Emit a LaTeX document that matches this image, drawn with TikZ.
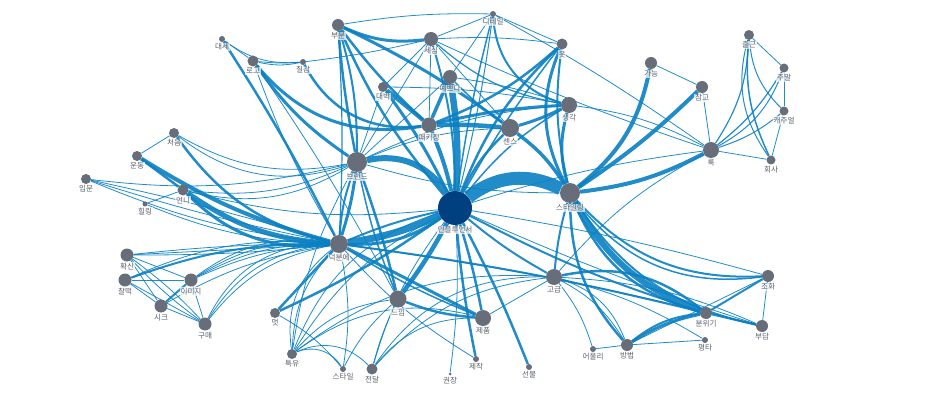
\documentclass[tikz,border=0pt]{standalone}
\usepackage{fontspec}
\setmainfont{Noto Sans CJK KR}
\pgfdeclarelayer{background}
\pgfsetlayers{background,main}
\definecolor{eblue}{HTML}{0A80C2}
\definecolor{ngray}{HTML}{676D79}
\definecolor{cdark}{HTML}{003F80}
\definecolor{lgray}{HTML}{5A606B}
\tikzset{
  v/.style={circle, fill=ngray, inner sep=0pt, minimum size=#1pt},
  lab/.style={font=\fontsize{7.6}{8.5}\selectfont, text=lgray, fill=white, fill opacity=0.7, text opacity=1, inner sep=0.7pt},
  every label/.style={lab},
  label distance=0.5pt,
  edge/.style={draw=eblue, draw opacity=0.9}
}
\newcommand\ed[4]{\draw[edge,line width=#3pt] (#1) to[#4] (#2);}
\begin{document}
\begin{tikzpicture}[x=1pt,y=-1pt]
\useasboundingbox (0,0) rectangle (950,414);
% nodes
\node[v=34, fill=cdark, label=below:인플루언서] (inf) at (455,208) {};
\node[v=20, label=below:스타일링] (sty) at (570,193) {};
\node[v=20, label=below:브랜드] (brand) at (357,162) {};
\node[v=18, label=below:덕분에] (deok) at (339,244) {};
\node[v=18, label=below:센스] (sense) at (510,128) {};
\node[v=16, label=below:생각] (think) at (569,105) {};
\node[v=15, label=below:패키징] (pack) at (429,125) {};
\node[v=14, label=below:예쁘다] (pretty) at (450,77) {};
\node[v=10, label=below:대박] (daebak) at (383,87) {};
\node[v=14, label=below:세심] (sesim) at (431,39) {};
\node[v=12, label=below:부분] (bubun) at (338,25) {};
\node[v=6, label=below:디테일] (detail) at (493,14) {};
\node[v=11, label=below:옷] (ot) at (562,44) {};
\node[v=11, label=below:로고] (logo) at (253,61) {};
\node[v=6, label=below:질감] (jilgam) at (303,62) {};
\node[v=6, label=below:대세] (daese) at (222,39) {};
\node[v=12, label=below:가능] (gan) at (651,63) {};
\node[v=12, label=below:참고] (cham) at (702,87) {};
\node[v=16, label=below:룩] (look) at (711,150) {};
\node[v=10, label=below:출근] (chul) at (749,35) {};
\node[v=9, label=below:주말] (jumal) at (784,68) {};
\node[v=9, label=below:캐주얼] (casual) at (784,111) {};
\node[v=9, label=below:회사] (hoesa) at (771,160) {};
\node[v=10, label=below:처음] (cheo) at (174,133) {};
\node[v=10, label=below:운동] (undong) at (137,156) {};
\node[v=10, label=below:입문] (ipmun) at (86,179) {};
\node[v=11, label=below:언니] (unni) at (183,190) {};
\node[v=5, label=below:힐링] (heal) at (145,204) {};
\node[v=13, label=below:확신] (hwak) at (127,255) {};
\node[v=13, label=below:찰떡] (chal) at (125,280) {};
\node[v=13, label=below:이미지] (image) at (191,280) {};
\node[v=13, label=below:시크] (chic) at (161,306) {};
\node[v=13, label=below:구매] (gumae) at (205,324) {};
\node[v=10, label=below:멋] (meot) at (275,313) {};
\node[v=10, label=below:특유] (teuk) at (292,354) {};
\node[v=6, label=below:스타일] (style) at (343,369) {};
\node[v=11, label=below:전달] (jeon) at (372,369) {};
\node[v=17, label=below:느낌] (neuk) at (398,299) {};
\node[v=16, label=below:제품] (jepum) at (483,318) {};
\node[v=3, label=below:권장] (gwon) at (450,374) {};
\node[v=6, label=below:제작] (jejak) at (476,359) {};
\node[v=6, label=below:선물] (seon) at (529,367) {};
\node[v=16, label=below:고급] (gogeup) at (554,277) {};
\node[v=6, label=below:어울리] (eoul) at (593,349) {};
\node[v=12, label=below:방법] (bang) at (627,345) {};
\node[v=6, label=below:평타] (pyeong) at (705,340) {};
\node[v=12, label=below:분위기] (bun) at (706,313) {};
\node[v=12, label=below:조화] (johwa) at (768,276) {};
\node[v=12, label=below:부담] (budam) at (762,326) {};
\begin{pgfonlayer}{background}
% center
\ed{inf}{sty}{13}{bend left=32}
\ed{brand}{inf}{6}{bend left=35}
\ed{deok}{inf}{7}{bend right=8}
\ed{deok}{inf}{3}{bend right=18}
\ed{deok}{inf}{2}{bend left=5}
\ed{pretty}{inf}{6.5}{bend left=6}
\ed{neuk}{inf}{4.5}{bend right=4}
\ed{pack}{inf}{4}{bend left=5}
\ed{sense}{inf}{2.5}{bend right=10}
\ed{bubun}{inf}{2.5}{bend right=8}
\ed{ot}{inf}{2.5}{bend right=12}
\ed{ot}{inf}{1.5}{bend right=4}
\ed{detail}{inf}{1.5}{bend right=3}
\ed{detail}{inf}{1}{bend left=3}
\ed{sesim}{inf}{2}{bend left=8}
\ed{daebak}{inf}{3}{bend left=5}
\ed{think}{inf}{1.5}{bend right=10}
\ed{inf}{jepum}{2.5}{bend left=3}
\ed{inf}{jejak}{2.5}{bend right=3}
\ed{inf}{seon}{2.5}{bend left=3}
\ed{inf}{gwon}{0.8}{bend left=5}
\ed{inf}{gogeup}{2}{bend right=5}
\ed{meot}{inf}{2.5}{bend right=5}
\ed{inf}{bun}{2}{bend right=5}
\ed{inf}{budam}{0.8}{bend right=3}
\ed{inf}{johwa}{0.8}{bend left=3}
\ed{inf}{look}{0.8}{bend left=5}
\ed{teuk}{inf}{0.8}{bend left=15}
\ed{teuk}{inf}{0.8}{bend left=25}
\ed{jeon}{inf}{0.8}{bend left=10}
\ed{unni}{inf}{0.8}{bend right=10}
% top cluster
\ed{bubun}{sesim}{3}{bend right=15}
\ed{bubun}{brand}{2.5}{bend right=3}
\ed{bubun}{brand}{2}{bend left=8}
\ed{bubun}{sense}{3}{bend left=5}
\ed{bubun}{pack}{2.5}{bend right=5}
\ed{bubun}{deok}{1.2}{bend left=3}
\ed{detail}{sesim}{0.8}{}
\ed{detail}{ot}{0.8}{}
\ed{detail}{think}{2}{bend right=35}
\ed{detail}{look}{0.8}{bend left=3}
\ed{detail}{bubun}{0.8}{bend right=5}
\ed{detail}{pretty}{0.8}{}
\ed{sesim}{ot}{0.8}{bend left=5}
\ed{sesim}{think}{1.2}{bend right=15}
\ed{sesim}{sense}{0.8}{}
\ed{sesim}{pack}{0.8}{}
\ed{sesim}{look}{0.8}{bend right=3}
\ed{pretty}{pack}{3.5}{}
\ed{pretty}{brand}{0.8}{}
\ed{pretty}{think}{0.8}{bend left=5}
\ed{pretty}{sense}{1.5}{bend right=5}
\ed{daebak}{pack}{4}{}
\ed{daebak}{think}{0.8}{bend left=5}
\ed{daebak}{sesim}{0.8}{}
\ed{daebak}{brand}{0.8}{}
\ed{pack}{sense}{4.5}{bend left=3}
\ed{pack}{think}{3}{bend left=5}
\ed{pack}{ot}{2.5}{bend right=10}
\ed{sense}{think}{3}{bend right=5}
\ed{sense}{sty}{3.5}{bend left=10}
\ed{think}{sty}{3}{bend right=15}
\ed{ot}{sty}{3}{bend right=25}
\ed{ot}{sty}{2}{bend right=10}
\ed{think}{look}{0.8}{bend left=10}
\ed{logo}{pack}{3}{bend right=30}
\ed{logo}{brand}{3}{bend right=10}
\ed{logo}{deok}{0.8}{bend right=5}
\ed{logo}{neuk}{0.8}{bend left=3}
\ed{logo}{jilgam}{0.8}{bend right=5}
\ed{logo}{jilgam}{0.8}{bend right=12}
\ed{daese}{jilgam}{0.8}{bend right=20}
\ed{daese}{logo}{0.8}{}
\ed{daese}{deok}{2.5}{bend left=3}
\ed{jilgam}{pack}{2.5}{bend right=35}
\ed{jilgam}{sesim}{0.8}{bend right=3}
\ed{brand}{sense}{0.8}{bend left=10}
\ed{brand}{think}{0.8}{bend left=10}
\ed{brand}{sesim}{0.8}{}
\ed{brand}{deok}{3}{bend left=5}
\ed{brand}{deok}{2}{bend right=8}
\ed{brand}{neuk}{2.5}{bend left=3}
\ed{brand}{neuk}{1.5}{bend right=5}
\ed{brand}{sty}{0.8}{bend right=8}
% right cluster
\ed{gan}{sty}{4}{bend left=20}
\ed{cham}{sty}{4}{bend left=5}
\ed{look}{sty}{4}{bend left=10}
\ed{gan}{cham}{0.8}{}
\ed{cham}{look}{0.8}{}
\ed{look}{hoesa}{0.8}{}
\ed{look}{chul}{1.2}{bend right=15}
\ed{look}{jumal}{1.2}{bend right=10}
\ed{look}{jumal}{1}{bend right=20}
\ed{look}{casual}{1}{bend right=10}
\ed{chul}{jumal}{0.8}{}
\ed{chul}{casual}{1}{bend right=20}
\ed{chul}{hoesa}{1.5}{bend right=15}
\ed{chul}{hoesa}{1}{bend right=25}
\ed{jumal}{casual}{0.8}{}
\ed{casual}{hoesa}{0.8}{}
\ed{gogeup}{look}{0.8}{bend left=10}
% lower right
\ed{sty}{bun}{6}{bend right=20}
\ed{sty}{bun}{2.5}{bend right=26}
\ed{sty}{johwa}{2}{bend right=25}
\ed{sty}{johwa}{1.5}{bend right=30}
\ed{sty}{budam}{2}{bend right=22}
\ed{sty}{gogeup}{2}{bend right=5}
\ed{sty}{bang}{2.5}{bend right=20}
\ed{gogeup}{bun}{2.5}{bend left=25}
\ed{gogeup}{bang}{0.8}{bend left=15}
\ed{gogeup}{bang}{0.8}{bend left=25}
\ed{gogeup}{eoul}{0.8}{bend left=10}
\ed{gogeup}{budam}{0.8}{bend left=10}
\ed{gogeup}{pyeong}{0.8}{bend left=8}
\ed{bang}{bun}{3}{bend left=10}
\ed{bang}{bun}{2}{bend left=16}
\ed{bang}{johwa}{0.8}{}
\ed{bang}{pyeong}{0.8}{}
\ed{bang}{eoul}{0.8}{}
\ed{bun}{johwa}{2}{}
\ed{bun}{budam}{2}{}
\ed{johwa}{budam}{0.8}{}
\ed{deok}{bun}{2}{bend left=3}
\ed{deok}{budam}{0.8}{bend left=3}
% bottom
\ed{neuk}{jepum}{2.5}{bend right=8}
\ed{deok}{jepum}{3}{}
\ed{deok}{jepum}{1.5}{bend right=5}
\ed{meot}{deok}{2.5}{}
\ed{meot}{style}{0.8}{bend left=10}
\ed{teuk}{deok}{0.8}{bend left=20}
\ed{teuk}{deok}{0.8}{bend left=30}
\ed{teuk}{neuk}{0.8}{bend left=20}
\ed{teuk}{jepum}{0.8}{bend left=25}
\ed{teuk}{gogeup}{0.8}{bend left=20}
\ed{teuk}{brand}{0.8}{bend left=10}
\ed{teuk}{style}{0.8}{bend left=40}
\ed{teuk}{jeon}{0.8}{bend left=35}
\ed{style}{neuk}{0.8}{bend left=10}
\ed{style}{deok}{0.8}{bend right=10}
\ed{jeon}{neuk}{0.8}{bend left=5}
\ed{jeon}{jepum}{0.8}{bend left=25}
\ed{jeon}{gogeup}{0.8}{bend left=20}
\ed{jeon}{gogeup}{0.8}{bend left=28}
\ed{jepum}{gogeup}{0.8}{}
\ed{jejak}{deok}{0.8}{bend left=8}
% left
\ed{unni}{deok}{5}{bend right=15}
\ed{unni}{deok}{3}{bend right=25}
\ed{undong}{deok}{4}{bend right=8}
\ed{undong}{unni}{2.5}{}
\ed{cheo}{undong}{0.8}{}
\ed{cheo}{deok}{2.5}{bend right=20}
\ed{cheo}{brand}{0.8}{bend right=20}
\ed{cheo}{brand}{0.8}{bend right=28}
\ed{ipmun}{deok}{0.8}{bend left=2}
\ed{ipmun}{deok}{0.8}{bend right=3}
\ed{ipmun}{deok}{0.8}{bend right=8}
\ed{ipmun}{brand}{0.8}{bend right=10}
\ed{heal}{unni}{0.8}{}
\ed{heal}{deok}{0.8}{bend right=10}
\ed{unni}{brand}{0.8}{bend right=15}
\ed{unni}{brand}{0.8}{bend right=22}
% lower left
\ed{hwak}{deok}{0.8}{}
\ed{hwak}{deok}{0.8}{bend left=3}
\ed{hwak}{deok}{0.8}{bend right=3}
\ed{hwak}{image}{0.8}{}
\ed{hwak}{chic}{0.8}{}
\ed{hwak}{gumae}{0.8}{bend right=5}
\ed{hwak}{gumae}{0.8}{bend left=5}
\ed{chal}{deok}{2}{bend left=10}
\ed{chal}{deok}{0.8}{bend left=14}
\ed{chal}{image}{0.8}{}
\ed{chal}{chic}{0.8}{}
\ed{chal}{gumae}{0.8}{}
\ed{image}{deok}{0.8}{bend left=10}
\ed{image}{deok}{0.8}{bend left=14}
\ed{image}{deok}{0.8}{bend left=18}
\ed{image}{deok}{0.8}{bend left=22}
\ed{image}{chic}{2}{}
\ed{image}{gumae}{0.8}{}
\ed{chic}{gumae}{0.8}{}
\ed{chic}{deok}{0.8}{bend left=10}
\ed{gumae}{deok}{0.8}{bend left=20}
\ed{gumae}{deok}{0.8}{bend left=26}
\ed{gumae}{deok}{0.8}{bend left=32}
\end{pgfonlayer}
\end{tikzpicture}
\end{document}
